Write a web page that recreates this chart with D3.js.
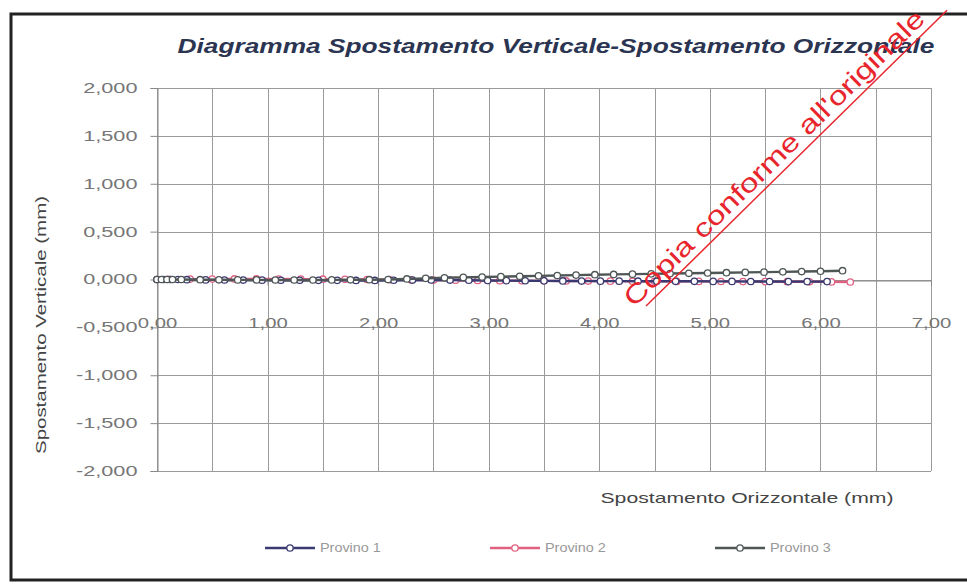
<!DOCTYPE html>
<html><head><meta charset="utf-8">
<script src="https://cdn.jsdelivr.net/npm/d3@7"></script>
<style>html,body{margin:0;padding:0;background:#fff;}svg{display:block;}</style>
</head><body>
<svg id="c" width="967" height="584"></svg>
<script>
const seriesNames = ["Provino 1", "Provino 2", "Provino 3"];
const xTicks = [0,1,2,3,4,5,6,7];
const yTicks = [2,1.5,1,0.5,0,-0.5,-1,-1.5,-2];

const x1 = [0.00,0.06,0.12,0.19,0.27,0.44,0.61,0.78,0.95,1.12,1.29,1.46,1.63,1.80,1.97,2.14,2.31,2.48,2.65,2.82,2.99,3.16,3.33,3.50,3.67,3.84,4.01,4.18,4.35,4.52,4.69,4.86,5.03,5.20,5.37,5.54,5.71,5.88,6.06];
const y1 = [0,0,0,0,-0.002,-0.004,-0.005,-0.006,-0.007,-0.008,-0.008,-0.009,-0.009,-0.010,-0.010,-0.008,-0.006,-0.005,-0.006,-0.008,-0.010,-0.012,-0.013,-0.014,-0.015,-0.016,-0.017,-0.017,-0.018,-0.018,-0.019,-0.019,-0.020,-0.020,-0.021,-0.021,-0.022,-0.022,-0.022];

const x2 = [0.00,0.10,0.30,0.50,0.70,0.90,1.10,1.30,1.50,1.70,1.90,2.10,2.30,2.50,2.70,2.90,3.10,3.30,3.50,3.70,3.90,4.10,4.30,4.50,4.70,4.90,5.10,5.30,5.50,5.70,5.90,6.10,6.27];
const y2 = [0,0.002,0.004,0.005,0.006,0.006,0.005,0.004,0.003,0.002,0.000,-0.002,-0.004,-0.006,-0.008,-0.010,-0.012,-0.013,-0.014,-0.015,-0.016,-0.017,-0.018,-0.019,-0.020,-0.020,-0.021,-0.022,-0.022,-0.023,-0.024,-0.025,-0.026];

const x3 = [0.00,0.04,0.09,0.14,0.22,0.39,0.56,0.73,0.90,1.07,1.24,1.41,1.58,1.75,1.92,2.09,2.26,2.43,2.60,2.77,2.94,3.11,3.28,3.45,3.62,3.79,3.96,4.13,4.30,4.47,4.64,4.81,4.98,5.15,5.32,5.49,5.66,5.83,6.00,6.20];
const y3 = [0,0,0,0,0,-0.002,-0.003,-0.004,-0.004,-0.005,-0.005,-0.005,-0.004,-0.003,-0.002,0.000,0.006,0.012,0.018,0.022,0.026,0.030,0.034,0.038,0.042,0.046,0.050,0.053,0.056,0.059,0.062,0.065,0.068,0.071,0.074,0.077,0.080,0.083,0.086,0.092];

const colors = ["#3a3a72", "#e06080", "#4e5656"];
const series = [
  {name: seriesNames[0], xs: x1, ys: y1, color: colors[0]},
  {name: seriesNames[1], xs: x2, ys: y2, color: colors[1]},
  {name: seriesNames[2], xs: x3, ys: y3, color: colors[2]}
];

const svg = d3.select("#c");
const font = "'Liberation Sans', Arial, sans-serif";

function widen(sel, k) {
  sel.each(function () {
    const w = this.getComputedTextLength();
    d3.select(this).attr("textLength", w * k).attr("lengthAdjust", "spacingAndGlyphs");
  });
}

// outer frame
svg.append("rect").attr("x", 11).attr("y", 14).attr("width", 1000).attr("height", 566)
  .attr("fill", "#fff").attr("stroke", "#222").attr("stroke-width", 3);

const L = 157, R = 931, T = 88, B = 471;
const x = d3.scaleLinear().domain([0, 7]).range([L, R]);
const y = d3.scaleLinear().domain([-2, 2]).range([B, T]);

const grid = svg.append("g").attr("stroke", "#9a9a9a").attr("stroke-width", 1);
d3.range(0, 7.01, 0.5).forEach(v => {
  grid.append("line").attr("x1", Math.round(x(v)) + 0.5).attr("x2", Math.round(x(v)) + 0.5)
    .attr("y1", T).attr("y2", B);
});
yTicks.forEach(v => {
  grid.append("line").attr("x1", L).attr("x2", R)
    .attr("y1", Math.round(y(v)) + 0.5).attr("y2", Math.round(y(v)) + 0.5);
});

const fmtY = v => d3.format(".3f")(v).replace("−", "-").replace(".", ",");
const fmtX = v => d3.format(".2f")(v).replace(".", ",");

const yAxis = d3.axisLeft(y).tickValues(yTicks).tickSize(7).tickPadding(13).tickFormat(fmtY);
const ga = svg.append("g").attr("transform", `translate(${L + 0.5},0)`).call(yAxis);
ga.selectAll("text").attr("font-family", font).attr("font-size", 14).attr("fill", "#767676");
widen(ga.selectAll("text"), 1.55);
ga.selectAll("line,path").attr("stroke", "#888");

const xAxis = d3.axisBottom(x).tickValues(xTicks).tickSize(5).tickPadding(33).tickFormat(fmtX);
const gx = svg.append("g").attr("transform", `translate(0,${Math.round(y(0)) + 0.5})`).call(xAxis);
gx.selectAll("text").attr("font-family", font).attr("font-size", 14).attr("fill", "#767676");
widen(gx.selectAll("text"), 1.45);
gx.selectAll("line,path").attr("stroke", "#888");

// series (draw Provino 2 first)
const line = d3.line().x(d => x(d[0])).y(d => y(d[1]));
[1, 0, 2].forEach(i => {
  const s = series[i];
  const pts = s.xs.map((v, k) => [v, s.ys[k]]);
  const g = svg.append("g");
  g.append("path").datum(pts).attr("d", line).attr("fill", "none")
    .attr("stroke", s.color).attr("stroke-width", 2.4);
  g.selectAll("circle").data(pts).join("circle")
    .attr("cx", d => x(d[0])).attr("cy", d => y(d[1])).attr("r", 3.2)
    .attr("fill", "#fff").attr("stroke", s.color).attr("stroke-width", 1.3);
});

// title
svg.append("text").attr("x", 556).attr("y", 53).attr("text-anchor", "middle")
  .attr("font-family", font).attr("font-weight", "bold").attr("font-style", "italic")
  .attr("font-size", 21).attr("fill", "#2b3552")
  .attr("textLength", 757).attr("lengthAdjust", "spacingAndGlyphs")
  .text("Diagramma Spostamento Verticale-Spostamento Orizzontale");

// axis titles
svg.append("text").attr("transform", "translate(46,325) rotate(-90)").attr("text-anchor", "middle")
  .attr("font-family", font).attr("font-size", 15).attr("fill", "#444")
  .attr("textLength", 258).attr("lengthAdjust", "spacingAndGlyphs")
  .text("Spostamento Verticale (mm)");
svg.append("text").attr("x", 747).attr("y", 503).attr("text-anchor", "middle")
  .attr("font-family", font).attr("font-size", 15).attr("fill", "#444")
  .attr("textLength", 293).attr("lengthAdjust", "spacingAndGlyphs")
  .text("Spostamento Orizzontale (mm)");

// legend
const legX = [265, 490, 715];
series.forEach((s, i) => {
  const g = svg.append("g").attr("transform", `translate(${legX[i]},548)`);
  g.append("line").attr("x1", 0).attr("x2", 50).attr("y1", 0).attr("y2", 0)
    .attr("stroke", s.color).attr("stroke-width", 2.4);
  g.append("circle").attr("cx", 25).attr("cy", 0).attr("r", 3.2)
    .attr("fill", "#fff").attr("stroke", s.color).attr("stroke-width", 1.3);
  const t = g.append("text").attr("x", 55).attr("y", 4).attr("font-family", font)
    .attr("font-size", 12).attr("fill", "#999").text(s.name);
  widen(t, 1.2);
});

// watermark
const wm = svg.append("g").attr("transform", "translate(634,308) rotate(-44.5)");
wm.append("text").attr("x", 0).attr("y", 0).attr("font-family", font)
  .attr("font-size", 26).attr("fill", "#e8242c")
  .attr("textLength", 410).attr("lengthAdjust", "spacingAndGlyphs")
  .text("Copia conforme all'originale");
wm.append("line").attr("x1", 10).attr("x2", 432).attr("y1", 7).attr("y2", 7)
  .attr("stroke", "#e8242c").attr("stroke-width", 1.5);
</script>
</body></html>
